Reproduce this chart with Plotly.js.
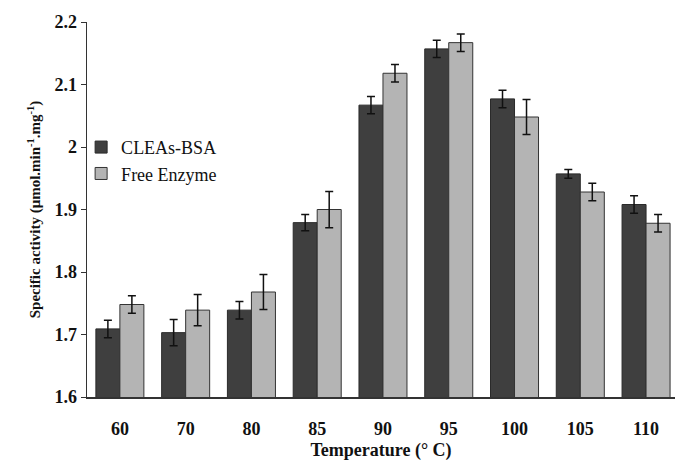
<!DOCTYPE html>
<html><head><meta charset="utf-8">
<script src="https://cdn.plot.ly/plotly-3.0.1.min.js"></script>
<style>html,body{margin:0;padding:0;background:#fff}</style>
</head><body><div id="chart" style="width:675px;height:464px"></div>
<script>
const temperatures = ['60','70','80','85','90','95','100','105','110'];
const cleasBSA = [1.709, 1.703, 1.739, 1.879, 2.067, 2.157, 2.077, 1.957, 1.908];
const cleasErr = [0.014, 0.021, 0.014, 0.013, 0.014, 0.014, 0.014, 0.007, 0.014];
const freeEnzyme = [1.748, 1.739, 1.768, 1.900, 2.118, 2.167, 2.048, 1.928, 1.878];
const freeErr = [0.014, 0.025, 0.028, 0.029, 0.014, 0.014, 0.028, 0.014, 0.014];

const serif = 'Liberation Serif, Times New Roman, serif';
const errStyle = {type:'data', visible:true, color:'#111', thickness:1.5, width:4};

const traces = [
  {type:'bar', name:'CLEAs-BSA', x:temperatures, y:cleasBSA,
   error_y:Object.assign({array:cleasErr}, errStyle),
   marker:{color:'#3f3f3f', line:{color:'#2a2a2a', width:1}}, legendgroup:'a'},
  {type:'bar', name:'Free Enzyme', x:temperatures, y:freeEnzyme,
   error_y:Object.assign({array:freeErr}, errStyle),
   marker:{color:'#b4b4b4', line:{color:'#333', width:1}}, legendgroup:'b'}
];

const layout = {
  width:675, height:464,
  margin:{l:87, r:0, t:22, b:67},
  paper_bgcolor:'#fff', plot_bgcolor:'#fff',
  barmode:'group', bargap:0.27, bargroupgap:0,
  font:{family:serif, color:'#111'},
  showlegend:true,
  legend:{x:-0.01, y:0.715, xanchor:'left', yanchor:'top', bgcolor:'rgba(0,0,0,0)',
          font:{family:serif, size:18, color:'#111'}, tracegroupgap:6, traceorder:'normal'},
  xaxis:{type:'category', range:[-0.5, 8.44], showline:true, linecolor:'#333', linewidth:1.5,
         ticks:'', showgrid:false, zeroline:false, ticklabelstandoff:15,
         tickfont:{family:serif, size:18, color:'#111', weight:'bold'},
         title:{text:'Temperature (° C)', font:{family:serif, size:18, color:'#111', weight:'bold'}, standoff:5}},
  yaxis:{range:[1.6, 2.2], tickvals:[1.6,1.7,1.8,1.9,2.0,2.1,2.2], ticktext:['1.6','1.7','1.8','1.9','2','2.1','2.2'],
         showline:true, linecolor:'#333', linewidth:1.5, ticks:'outside', ticklen:5, tickcolor:'#333',
         showgrid:false, zeroline:false,
         tickfont:{family:serif, size:18, color:'#111', weight:'bold'},
         title:{text:'Specific activity (μmol.min<sup>-1</sup>.mg<sup>-1</sup>)', font:{family:serif, size:15, color:'#111', weight:'bold'}, standoff:10}}
};
Plotly.newPlot('chart', traces, layout, {displayModeBar:false, staticPlot:true});
</script></body></html>
